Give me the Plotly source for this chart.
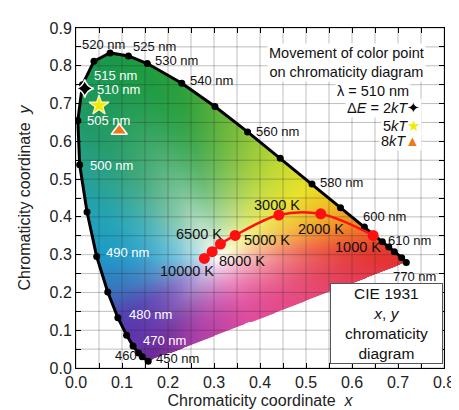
import numpy as np
import plotly.graph_objects as go

# ---------------- data ----------------
locus_nm = [450, 460, 465, 470, 475, 480, 485, 490, 495, 500, 505, 510, 515, 520,
            525, 530, 540, 550, 560, 570, 580, 590, 600, 610, 615, 620, 630, 770]
locus_x = [0.157, 0.144, 0.136, 0.124, 0.110, 0.091, 0.069, 0.045, 0.024, 0.008,
           0.004, 0.014, 0.039, 0.074, 0.114, 0.155, 0.230, 0.302, 0.373, 0.444,
           0.513, 0.575, 0.627, 0.666, 0.680, 0.692, 0.708, 0.718]
locus_y = [0.018, 0.030, 0.040, 0.058, 0.087, 0.133, 0.201, 0.295, 0.413, 0.538,
           0.655, 0.750, 0.812, 0.834, 0.826, 0.806, 0.754, 0.692, 0.625, 0.555,
           0.487, 0.424, 0.373, 0.334, 0.320, 0.308, 0.292, 0.279]
locus_colors = ['#6a2a9a', '#6c2ca0', '#6830a6', '#6234aa', '#5c36ac', '#5242b0',
                '#3a74bc', '#1e9ac8', '#22a2b4', '#26a08c', '#209a68', '#1c9858',
                '#1a9850', '#1a9848', '#1c9a44', '#1e9c40', '#2ea03c', '#58b03c',
                '#8ac43c', '#bed834', '#eae228', '#f0b424', '#f07c28', '#ec4c2c',
                '#e8402c', '#e6382e', '#e43430', '#e33232']
# purple line colour stops (from 770 nm end back to 450 nm end)
purple_pos = [0.0, 0.35, 0.6, 0.8, 1.0]
purple_colors = ['#e33232', '#e64a7a', '#e04c9e', '#b040a8', '#6a2a9a']
white_point = [0.31, 0.29]

label_nm_text = ['520 nm', '525 nm', '530 nm', '540 nm', '560 nm', '580 nm', '600 nm',
                 '610 nm', '770 nm', '450 nm', '470 nm', '480 nm', '490 nm', '500 nm',
                 '505 nm', '510 nm', '515 nm']
label_nm_x = [0.008, 0.120, 0.167, 0.243, 0.388, 0.525, 0.620, 0.673, 0.684, 0.169,
              0.141, 0.110, 0.061, 0.025, 0.019, 0.042, 0.034]
label_nm_y = [0.856, 0.851, 0.815, 0.762, 0.626, 0.492, 0.400, 0.338, 0.241, 0.026,
              0.074, 0.141, 0.305, 0.536, 0.654, 0.738, 0.774]
label_nm_white = [False] * 10 + [True] * 7

cct_labels = ['10000 K', '8000 K', '6500 K', '5000 K', '3000 K', '2000 K', '1000 K']
cct_x = [0.279, 0.296, 0.314, 0.346, 0.441, 0.532, 0.646]
cct_y = [0.290, 0.308, 0.328, 0.351, 0.405, 0.408, 0.351]
cct_label_x = [0.179, 0.306, 0.213, 0.361, 0.382, 0.479, 0.559]
cct_label_y = [0.256, 0.282, 0.354, 0.338, 0.431, 0.369, 0.320]

de_labels = ['2kT', '5kT', '8kT']
de_x = [0.019, 0.050, 0.094]
de_y = [0.740, 0.695, 0.628]

x_ticks = [0.0, 0.1, 0.2, 0.3, 0.4, 0.5, 0.6, 0.7, 0.8]
y_ticks = [0.0, 0.1, 0.2, 0.3, 0.4, 0.5, 0.6, 0.7, 0.8, 0.9]
grid_step = 0.05

FONT = 'Liberation Sans, Arial, sans-serif'


def hex2rgb(h):
    h = h.lstrip('#')
    return [int(h[i:i + 2], 16) for i in (0, 2, 4)]


# ---------------- colour field ----------------
x_max, y_max = x_ticks[-1], y_ticks[-1]
nx, ny = 380, 351
dxp, dyp = x_max / nx, y_max / ny
xs = (np.arange(nx) + 0.5) * dxp
ys = (np.arange(ny) + 0.5) * dyp
GX, GY = np.meshgrid(xs, ys)
P = np.stack([GX.ravel(), GY.ravel()], 1)
W = np.array(white_point)
V = np.array(list(zip(locus_x, locus_y)) + [(locus_x[0], locus_y[0])])
C = np.array([hex2rgb(c) for c in locus_colors], float)
PC = np.array([hex2rgb(c) for c in purple_colors], float)

D = P - W
D[np.all(np.abs(D) < 1e-9, axis=1)] = [1e-6, 0.0]
A = V[:-1]
E = V[1:] - V[:-1]
AW = A - W
den = D[:, 0:1] * E[None, :, 1] - D[:, 1:2] * E[None, :, 0]
tn = (AW[:, 0] * E[:, 1] - AW[:, 1] * E[:, 0])[None, :]
un = AW[None, :, 0] * D[:, 1:2] - AW[None, :, 1] * D[:, 0:1]
with np.errstate(divide='ignore', invalid='ignore'):
    t = tn / den
    u = un / den
valid = (np.abs(den) > 1e-14) & (t > 0) & (u >= -1e-9) & (u <= 1 + 1e-9)
t = np.where(valid, t, np.inf)
k = np.argmin(t, axis=1)
idx = np.arange(len(P))
tmin = t[idx, k]
umin = np.clip(u[idx, k], 0, 1)
nloc = len(locus_x)
is_loc = k < nloc - 1
kk = np.where(is_loc, k, 0)
bc_loc = C[kk] + umin[:, None] * (C[np.minimum(kk + 1, nloc - 1)] - C[kk])
bc_pur = np.stack([np.interp(umin, purple_pos, PC[:, j]) for j in range(3)], 1)
bc = np.where(is_loc[:, None], bc_loc, bc_pur)
s = np.clip(1.0 / tmin, 0, 1)
f = 1 - (1 - s) ** 2.2
rgb = 255 + (bc - 255) * f[:, None]
dist_px = (tmin - 1) * np.linalg.norm(D, axis=1) / 0.00225
alpha = np.clip(0.5 + dist_px, 0, 1)
img = np.zeros((len(P), 4))
img[:, :3] = rgb
img[:, 3] = alpha * 255
img = np.clip(np.round(img), 0, 255).astype(np.uint8).reshape(ny, nx, 4)

fig = go.Figure()
fig.add_trace(go.Image(z=img.tolist(), colormodel='rgba', zmin=[0, 0, 0, 0],
                       zmax=[255, 255, 255, 255], x0=xs[0], dx=dxp, y0=ys[0], dy=dyp,
                       hoverinfo='skip'))

# grid lines drawn above the colour field
gx, gy = [], []
for v in np.arange(0, x_max + 1e-9, grid_step):
    gx += [v, v, None]
    gy += [0, y_max, None]
for v in np.arange(0, y_max + 1e-9, grid_step):
    gx += [0, x_max, None]
    gy += [v, v, None]
fig.add_trace(go.Scatter(x=gx, y=gy, mode='lines', hoverinfo='skip',
                         line=dict(color='rgba(40,40,40,0.30)', width=1)))

# spectral locus
fig.add_trace(go.Scatter(x=locus_x, y=locus_y, mode='lines+markers',
                         line=dict(color='black', width=3),
                         marker=dict(color='black', size=7)))

# Planckian locus
fig.add_trace(go.Scatter(x=cct_x, y=cct_y, mode='lines+markers',
                         line=dict(color='#ff1010', width=2.5, shape='spline', smoothing=1.0),
                         marker=dict(color='#ff1010', size=11)))

# colour-point markers
fig.add_trace(go.Scatter(x=[de_x[0]], y=[de_y[0]], mode='markers',
                         marker=dict(symbol='star-diamond', size=13, color='black',
                                     line=dict(color='white', width=1.5))))
fig.add_trace(go.Scatter(x=[de_x[1]], y=[de_y[1]], mode='markers',
                         marker=dict(symbol='star', size=15, color='#f4ec00',
                                     line=dict(color='#fffbd0', width=1.2))))
fig.add_trace(go.Scatter(x=[de_x[2]], y=[de_y[2]], mode='markers',
                         marker=dict(symbol='triangle-up', size=14, color='#f07818',
                                     line=dict(color='white', width=1.5))))

ann = []
for txt, x, y, wh in zip(label_nm_text, label_nm_x, label_nm_y, label_nm_white):
    ann.append(dict(x=x, y=y, text=txt, showarrow=False, xanchor='left', yanchor='middle',
                    font=dict(size=13, color='white' if wh else '#111', family=FONT)))
ann.append(dict(x=0.137, y=0.033, text='460', showarrow=False, xanchor='right',
                yanchor='middle', font=dict(size=13, color='#111', family=FONT)))
for txt, x, y in zip(cct_labels, cct_label_x, cct_label_y):
    ann.append(dict(x=x, y=y, text=txt, showarrow=False, xanchor='left', yanchor='middle',
                    font=dict(size=14.5, color='#111', family=FONT)))

ann.append(dict(x=0.589, y=0.808, text='Movement of color point<br>on chromaticity diagram',
                showarrow=False, xanchor='center', yanchor='middle', bgcolor='white',
                font=dict(size=14.5, color='#111', family=FONT)))
ann.append(dict(x=0.728, y=0.733, text='\u03bb = 510 nm', showarrow=False,
                xanchor='right', yanchor='middle', bgcolor='white',
                font=dict(size=14.5, color='#111', family=FONT)))
ann.append(dict(x=0.752, y=0.687,
                text='\u0394<i>E</i> = 2<i>kT</i><span style="color:black">\u2726</span>',
                showarrow=False, xanchor='right', yanchor='middle', bgcolor='white',
                font=dict(size=14.5, color='#111', family=FONT)))
ann.append(dict(x=0.752, y=0.641,
                text='5<i>kT</i><span style="color:#f4ec00">\u2605</span>',
                showarrow=False, xanchor='right', yanchor='middle', bgcolor='white',
                font=dict(size=14.5, color='#111', family=FONT)))
ann.append(dict(x=0.752, y=0.600,
                text='8<i>kT</i><span style="color:#f07818">\u25b2</span>',
                showarrow=False, xanchor='right', yanchor='middle', bgcolor='white',
                font=dict(size=14.5, color='#111', family=FONT)))
ann.append(dict(x=0.675, y=0.118,
                text='CIE 1931<br><i>x</i>, <i>y</i><br>chromaticity<br>diagram',
                showarrow=False, xanchor='center', yanchor='middle', bgcolor='white',
                bordercolor='#555', borderwidth=1, borderpad=1, width=109,
                font=dict(size=15.5, color='#111', family=FONT)))

axis_common = dict(showgrid=False, zeroline=False, showline=True, linecolor='black',
                   linewidth=1, mirror='allticks', ticks='inside', ticklen=5,
                   tickcolor='black', tickformat='.1f',
                   tickfont=dict(size=16, color='#222', family=FONT),
                   minor=dict(ticks='inside', ticklen=5, dtick=grid_step, tickcolor='black',
                              showgrid=False))
fig.update_layout(
    width=459, height=410,
    margin=dict(l=68, r=12, t=16, b=43),
    paper_bgcolor='white', plot_bgcolor='white',
    showlegend=False,
    annotations=ann,
    xaxis=dict(range=[0, x_max], tickvals=x_ticks, autorange=False,
               title=dict(text='Chromaticity coordinate  <i>x</i>', standoff=4,
                          font=dict(size=16, color='#222', family=FONT)),
               **axis_common),
    yaxis=dict(range=[0, y_max], tickvals=y_ticks, autorange=False, scaleanchor=False,
               title=dict(text='Chromaticity coordinate  <i>y</i>', standoff=14,
                          font=dict(size=16, color='#222', family=FONT)),
               **axis_common),
)
fig.write_html('out.html')
